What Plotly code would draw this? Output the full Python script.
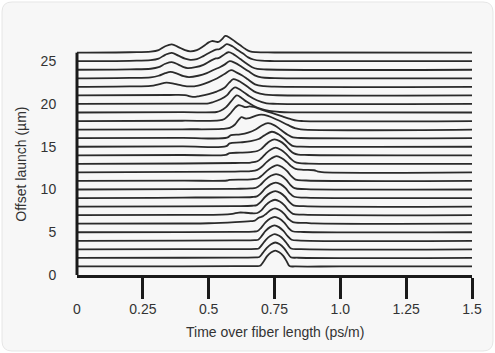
import plotly.graph_objects as go

# ---------------- data ----------------
OFFSETS = list(range(1, 27))                       # offset launch (µm) of each trace
X_TICKS = [0, 0.25, 0.5, 0.75, 1.0, 1.25, 1.5]
X_TICK_TEXT = ["0", "0.25", "0.5", "0.75", "1.0", "1.25", "1.5"]
X_TICK_MARKS = [0.25, 0.5, 0.75, 1.0, 1.25, 1.5]
Y_TICKS = [0, 5, 10, 15, 20, 25]

# each pulse: (time over fiber length ps/m, pulse height above its own offset baseline)
pulse_01 = [(0, 0), (0.4, 0.02), (0.6, 0.03), (0.68, 0.04), (0.695, 0.08), (0.708, 0.55), (0.722, 1.2), (0.738, 1.65),
            (0.753, 1.85), (0.768, 1.65), (0.784, 1.2), (0.797, 0.55), (0.807, 0.05), (0.83, 0), (1.0, 0), (1.5, 0)]
pulse_02 = [(0, 0), (0.4, 0.02), (0.6, 0.04), (0.68, 0.06), (0.692, 0.1), (0.705, 0.55), (0.72, 1.15), (0.737, 1.6),
            (0.753, 1.8), (0.77, 1.6), (0.786, 1.15), (0.8, 0.55), (0.812, 0.08), (0.84, 0.02), (1.5, 0)]
pulse_03 = [(0, 0), (0.4, 0.02), (0.6, 0.03), (0.68, 0.06), (0.69, 0.1), (0.703, 0.55), (0.718, 1.15), (0.735, 1.58),
            (0.751, 1.78), (0.768, 1.58), (0.785, 1.15), (0.8, 0.55), (0.813, 0.1), (0.85, 0.02), (1.5, 0)]
pulse_04 = [(0, 0), (0.4, 0.02), (0.6, 0.04), (0.675, 0.07), (0.688, 0.12), (0.701, 0.55), (0.716, 1.15), (0.733, 1.6),
            (0.75, 1.8), (0.767, 1.6), (0.784, 1.15), (0.8, 0.55), (0.815, 0.12), (0.85, 0.03), (1.5, 0)]
pulse_05 = [(0, 0), (0.4, 0.02), (0.6, 0.05), (0.67, 0.08), (0.686, 0.14), (0.7, 0.55), (0.716, 1.15), (0.734, 1.6),
            (0.751, 1.8), (0.768, 1.6), (0.786, 1.15), (0.802, 0.55), (0.818, 0.12), (0.86, 0.03), (1.5, 0)]
pulse_06 = [(0, 0), (0.4, 0.02), (0.5, 0.05), (0.6, 0.18), (0.66, 0.3), (0.675, 0.35), (0.69, 0.7), (0.705, 0.85),
            (0.72, 1.2), (0.736, 1.6), (0.752, 1.8), (0.769, 1.6), (0.787, 1.15), (0.803, 0.55), (0.82, 0.18),
            (0.87, 0.1), (0.9, 0.04), (1.5, 0)]
pulse_07 = [(0, 0), (0.4, 0.02), (0.55, 0.05), (0.59, 0.15), (0.615, 0.3), (0.64, 0.28), (0.665, 0.22), (0.685, 0.25),
            (0.7, 0.55), (0.716, 1.15), (0.734, 1.6), (0.752, 1.8), (0.77, 1.6), (0.788, 1.15), (0.804, 0.55),
            (0.82, 0.15), (0.86, 0.05), (1.5, 0)]
pulse_08 = [(0, 0), (0.4, 0.03), (0.6, 0.06), (0.665, 0.1), (0.683, 0.18), (0.698, 0.55), (0.715, 1.15), (0.734, 1.6),
            (0.753, 1.8), (0.772, 1.6), (0.79, 1.15), (0.806, 0.55), (0.822, 0.15), (0.86, 0.05), (1.5, 0)]
pulse_09 = [(0, 0), (0.3, 0.03), (0.45, 0.06), (0.6, 0.07), (0.665, 0.12), (0.683, 0.2), (0.698, 0.55), (0.716, 1.15),
            (0.735, 1.6), (0.755, 1.8), (0.774, 1.6), (0.792, 1.15), (0.808, 0.55), (0.825, 0.15), (0.87, 0.05), (1.5, 0)]
pulse_10 = [(0, 0), (0.4, 0.04), (0.6, 0.08), (0.66, 0.12), (0.68, 0.2), (0.697, 0.55), (0.716, 1.15), (0.736, 1.6),
            (0.756, 1.8), (0.776, 1.6), (0.794, 1.15), (0.81, 0.55), (0.826, 0.15), (0.87, 0.05), (1.5, 0)]
pulse_11 = [(0, 0), (0.4, 0.03), (0.57, 0.05), (0.58, 0.12), (0.64, 0.15), (0.67, 0.2), (0.69, 0.35), (0.703, 0.65),
            (0.72, 1.15), (0.74, 1.6), (0.76, 1.85), (0.78, 1.6), (0.798, 1.15), (0.814, 0.55), (0.83, 0.15),
            (0.87, 0.05), (1.5, 0)]
pulse_12 = [(0, 0), (0.4, 0.05), (0.6, 0.1), (0.66, 0.15), (0.685, 0.3), (0.702, 0.65), (0.72, 1.2), (0.739, 1.65),
            (0.758, 1.9), (0.778, 1.65), (0.797, 1.2), (0.814, 0.7), (0.83, 0.4), (0.86, 0.3), (0.9, 0.25),
            (0.915, 0.1), (0.93, 0.02), (1.5, 0)]
pulse_13 = [(0, 0), (0.4, 0.04), (0.6, 0.1), (0.66, 0.15), (0.685, 0.3), (0.7, 0.65), (0.717, 1.2), (0.735, 1.65),
            (0.754, 1.9), (0.774, 1.65), (0.793, 1.2), (0.81, 0.65), (0.826, 0.25), (0.845, 0.08), (0.88, 0.03), (1.5, 0)]
pulse_14 = [(0, 0), (0.4, 0.03), (0.565, 0.06), (0.58, 0.25), (0.62, 0.3), (0.66, 0.38), (0.685, 0.5), (0.7, 0.75),
            (0.715, 1.2), (0.732, 1.65), (0.75, 1.85), (0.77, 1.65), (0.79, 1.2), (0.806, 0.65), (0.822, 0.25),
            (0.84, 0.08), (0.88, 0.03), (1.5, 0)]
pulse_15 = [(0, 0), (0.4, 0.03), (0.567, 0.06), (0.58, 0.4), (0.62, 0.5), (0.66, 0.65), (0.69, 0.9), (0.71, 1.3),
            (0.74, 1.75), (0.765, 1.45), (0.788, 0.9), (0.807, 0.35), (0.822, 0.06), (0.85, 0.02), (1.5, 0)]
pulse_16 = [(0, 0), (0.4, 0.03), (0.57, 0.06), (0.585, 0.35), (0.62, 0.45), (0.65, 0.65), (0.68, 1.05), (0.7, 1.45),
            (0.725, 1.75), (0.75, 1.5), (0.775, 0.95), (0.8, 0.4), (0.82, 0.08), (0.85, 0.02), (1.5, 0)]
pulse_17 = [(0, 0), (0.4, 0.04), (0.55, 0.08), (0.58, 0.2), (0.6, 0.6), (0.615, 1.2), (0.625, 1.45), (0.64, 1.3),
            (0.655, 1.35), (0.68, 1.65), (0.7, 1.75), (0.725, 1.6), (0.76, 1.15), (0.8, 0.55), (0.83, 0.15),
            (0.85, 0.03), (1.5, 0)]
pulse_18 = [(0, 0), (0.4, 0.04), (0.54, 0.08), (0.56, 0.25), (0.58, 0.8), (0.6, 1.55), (0.613, 1.85), (0.628, 1.75),
            (0.64, 1.62), (0.655, 1.72), (0.67, 1.65), (0.7, 1.35), (0.74, 0.95), (0.78, 0.55), (0.81, 0.25),
            (0.835, 0.05), (0.86, 0), (1.5, 0)]
pulse_19 = [(0, 0), (0.4, 0.04), (0.53, 0.06), (0.545, 0.2), (0.565, 0.6), (0.585, 1.3), (0.607, 2.0), (0.625, 1.7),
            (0.645, 1.25), (0.67, 0.8), (0.695, 0.45), (0.73, 0.18), (0.77, 0.06), (0.82, 0.02), (1.5, 0)]
pulse_20 = [(0, 0), (0.4, 0.05), (0.5, 0.08), (0.518, 0.23), (0.545, 0.55), (0.569, 1.0), (0.585, 1.6), (0.6, 1.95),
            (0.615, 1.75), (0.632, 1.4), (0.655, 0.9), (0.683, 0.43), (0.72, 0.08), (0.76, 0.02), (1.5, 0)]
pulse_21 = [(0, 0), (0.35, 0.05), (0.41, 0.03), (0.44, -0.18), (0.465, -0.08), (0.5, 0.15), (0.53, 0.45), (0.56, 0.9),
            (0.578, 1.5), (0.594, 1.9), (0.61, 1.75), (0.63, 1.4), (0.655, 0.85), (0.68, 0.35), (0.715, 0.08),
            (0.76, 0.02), (1.5, 0)]
pulse_22 = [(0, 0), (0.2, 0.05), (0.28, 0.12), (0.31, 0.3), (0.34, 0.5), (0.37, 0.35), (0.4, 0.15), (0.43, 0.05),
            (0.46, 0.15), (0.5, 0.55), (0.531, 0.97), (0.56, 1.5), (0.585, 1.95), (0.605, 1.7), (0.626, 1.36),
            (0.65, 0.85), (0.676, 0.3), (0.71, 0.08), (0.75, 0.02), (1.5, 0)]
pulse_23 = [(0, 0), (0.2, 0.05), (0.28, 0.12), (0.31, 0.3), (0.335, 0.6), (0.355, 0.75), (0.38, 0.55), (0.405, 0.25),
            (0.425, 0.15), (0.46, 0.3), (0.493, 0.6), (0.52, 1.0), (0.544, 1.33), (0.56, 1.6), (0.58, 2.0),
            (0.6, 1.8), (0.625, 1.35), (0.65, 0.85), (0.675, 0.35), (0.7, 0.1), (0.75, 0.03), (1.5, 0)]
pulse_24 = [(0, 0), (0.2, 0.05), (0.28, 0.12), (0.31, 0.3), (0.335, 0.7), (0.36, 0.9), (0.385, 0.6), (0.405, 0.3),
            (0.42, 0.2), (0.45, 0.3), (0.48, 0.58), (0.51, 1.1), (0.527, 1.32), (0.537, 1.36), (0.555, 1.7),
            (0.575, 2.05), (0.595, 1.8), (0.62, 1.25), (0.645, 0.7), (0.665, 0.3), (0.685, 0.1), (0.72, 0.03), (1.5, 0)]
pulse_25 = [(0, 0), (0.2, 0.05), (0.28, 0.12), (0.31, 0.3), (0.335, 0.75), (0.36, 0.97), (0.385, 0.65), (0.41, 0.3),
            (0.43, 0.16), (0.455, 0.25), (0.48, 0.6), (0.506, 1.05), (0.527, 1.35), (0.54, 1.4), (0.555, 1.7),
            (0.569, 2.0), (0.59, 1.75), (0.61, 1.3), (0.632, 0.86), (0.65, 0.45), (0.67, 0.2), (0.7, 0.06),
            (0.75, 0.02), (1.5, 0)]
pulse_26 = [(0, 0), (0.2, 0.05), (0.28, 0.12), (0.31, 0.3), (0.335, 0.75), (0.36, 0.97), (0.385, 0.65), (0.41, 0.3),
            (0.43, 0.16), (0.455, 0.3), (0.48, 0.75), (0.5, 1.2), (0.512, 1.36), (0.527, 1.3), (0.537, 1.25),
            (0.55, 1.55), (0.563, 1.95), (0.58, 1.75), (0.6, 1.3), (0.62, 0.86), (0.64, 0.42), (0.657, 0.16),
            (0.68, 0.06), (0.75, 0.02), (1.5, 0)]

PULSES = [pulse_01, pulse_02, pulse_03, pulse_04, pulse_05, pulse_06, pulse_07, pulse_08, pulse_09, pulse_10,
          pulse_11, pulse_12, pulse_13, pulse_14, pulse_15, pulse_16, pulse_17, pulse_18, pulse_19, pulse_20,
          pulse_21, pulse_22, pulse_23, pulse_24, pulse_25, pulse_26]

# ---------------- style / layout ----------------
W, H = 495, 353
ML, MR, MT, MB = 77, 23, 30, 78
PW, PH = W - ML - MR, H - MT - MB
Y_RANGE = [0, 28.65]
BG = "#f7f7f7"
LINE = "#2b2b2b"
AXIS = "#1a1a1a"
TEXT = "#333333"
FONT = "Liberation Sans, Arial, sans-serif"


def px(xp):
    return (xp - ML) / PW


def py(yp):
    return (H - MB - yp) / PH


fig = go.Figure()

# draw from the top offset down so lower traces hide the ones behind them
for off, pulse in reversed(list(zip(OFFSETS, PULSES))):
    xs = [p[0] for p in pulse]
    ys = [off + p[1] for p in pulse]
    fig.add_trace(go.Scatter(
        x=xs, y=ys, mode="lines",
        line=dict(color=LINE, width=1.8, shape="spline", smoothing=1.0),
        fill="tozeroy", fillcolor=BG,
        hoverinfo="skip", showlegend=False,
    ))

# empty trace to host the overlaid label axis
fig.add_trace(go.Scatter(x=[], y=[], xaxis="x2", yaxis="y", showlegend=False, hoverinfo="skip"))

# rounded card background
x0, y0, x1, y1, r = 2, 2, 493, 351, 10
pts = [
    ("M", [(x0 + r, y0)]), ("L", [(x1 - r, y0)]), ("Q", [(x1, y0), (x1, y0 + r)]),
    ("L", [(x1, y1 - r)]), ("Q", [(x1, y1), (x1 - r, y1)]), ("L", [(x0 + r, y1)]),
    ("Q", [(x0, y1), (x0, y1 - r)]), ("L", [(x0, y0 + r)]), ("Q", [(x0, y0), (x0 + r, y0)]),
]
path = " ".join(c + " " + " ".join(f"{px(a):.5f},{py(b):.5f}" for a, b in p) for c, p in pts) + " Z"

shapes = [
    dict(type="path", path=path, xref="paper", yref="paper", fillcolor=BG,
         line=dict(color="#e6e6e6", width=1), layer="below"),
    dict(type="line", xref="paper", yref="paper", x0=0, x1=0,
         y0=0, y1=OFFSETS[-1] / Y_RANGE[1], line=dict(color=AXIS, width=3), layer="above"),
]

fig.update_layout(
    width=W, height=H,
    margin=dict(l=ML, r=MR, t=MT, b=MB, pad=0),
    paper_bgcolor="white", plot_bgcolor=BG,
    font=dict(family=FONT, size=14, color=TEXT),
    shapes=shapes,
    xaxis=dict(range=[0, 1.5], showgrid=False, zeroline=False,
               showline=True, linecolor=AXIS, linewidth=3,
               tickmode="array", tickvals=X_TICK_MARKS, ticks="outside", ticklen=21, tickwidth=2.5,
               tickcolor=AXIS, showticklabels=False),
    xaxis2=dict(range=[0, 1.5], overlaying="x", anchor="y", side="bottom",
                showgrid=False, zeroline=False, showline=False,
                tickmode="array", tickvals=X_TICKS, ticktext=X_TICK_TEXT,
                ticks="outside", ticklen=21, tickcolor="rgba(0,0,0,0)",
                tickfont=dict(family=FONT, size=14, color=TEXT)),
    yaxis=dict(range=Y_RANGE, showgrid=False, zeroline=False, showline=False,
               tickmode="array", tickvals=Y_TICKS, ticks="outside", ticklen=17,
               tickcolor="rgba(0,0,0,0)", tickfont=dict(family=FONT, size=14, color=TEXT)),
    annotations=[
        dict(text="Time over fiber length (ps/m)", xref="paper", yref="paper",
             x=px(275), y=py(332), xanchor="center", yanchor="middle", showarrow=False,
             font=dict(family=FONT, size=14, color=TEXT)),
        dict(text="Offset launch (µm)", xref="paper", yref="paper",
             x=px(20.7), y=py(164), xanchor="center", yanchor="middle", showarrow=False,
             textangle=-90, font=dict(family=FONT, size=14, color=TEXT)),
    ],
)

fig.write_html("out.html")
